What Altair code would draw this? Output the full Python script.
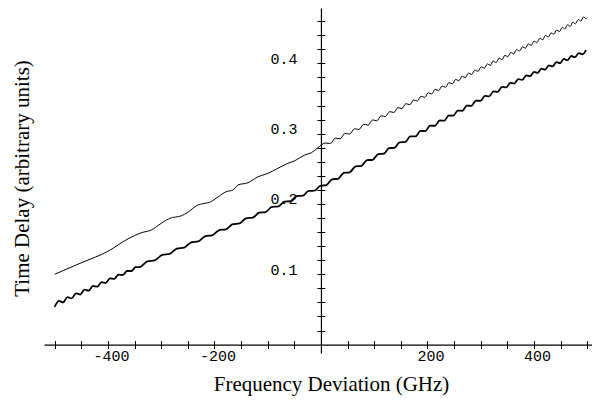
import altair as alt
import pandas as pd

# ---- data (frequency deviation in GHz, time delay) ----
upper_f = [-500, -450, -400, -362, -337.5, -318.7, -300, -284, -262, -250, -234, -218, -209, -193,
           -178, -165, -156, -137, -118, -99.5, -81, -62, -49, -30.6, -18, -5.6,
           8, 18, 27, 36, 45, 54, 63, 71.5, 80, 88.5, 97, 105, 113, 121, 129, 137, 144.5, 152, 159.5, 167,
           174, 181, 188, 195, 201.5, 208, 214.5, 221, 227.5, 234, 240.5, 247, 253, 259, 265, 271, 277, 283,
           289, 295, 301, 307, 312.5, 318, 323.5, 329, 334.5, 340, 345.5, 351, 356.5, 362, 367.5, 373, 378.5,
           384, 389.5, 395, 400, 405.5, 411, 416.5, 421.5, 427, 432, 437.5, 442.5, 448, 453, 458, 463, 468,
           473, 478, 483, 488, 493, 498, 500]
upper_v = [0.1000, 0.1163, 0.1326, 0.1505, 0.1590, 0.1629, 0.1724, 0.1795, 0.1832, 0.1880, 0.1974, 0.2009,
           0.2023, 0.2102, 0.2174, 0.2198, 0.2269, 0.2302, 0.2387, 0.2435, 0.2506, 0.2578, 0.2615, 0.2696,
           0.2728, 0.2800,
           0.2866, 0.2861, 0.2936, 0.2927, 0.3003, 0.2994, 0.3069, 0.3059, 0.3132, 0.3121,
           0.3195, 0.3183, 0.3254, 0.3242, 0.3313, 0.3301, 0.3371, 0.3356, 0.3426, 0.3412,
           0.3480, 0.3464, 0.3532, 0.3516, 0.3582, 0.3564, 0.3630, 0.3612, 0.3678, 0.3660,
           0.3726, 0.3708, 0.3772, 0.3752, 0.3817, 0.3797, 0.3861, 0.3841, 0.3905, 0.3886,
           0.3950, 0.3930, 0.3992, 0.3971, 0.4033, 0.4011, 0.4074, 0.4052, 0.4114, 0.4093,
           0.4155, 0.4133, 0.4196, 0.4174, 0.4236, 0.4215, 0.4277, 0.4256, 0.4316, 0.4294,
           0.4357, 0.4335, 0.4396, 0.4374, 0.4434, 0.4413, 0.4473, 0.4452, 0.4512, 0.4489,
           0.4549, 0.4526, 0.4586, 0.4563, 0.4623, 0.4600, 0.4660, 0.4637, 0.4650]

lower_f = [-500, -492, -484, -476, -468, -460, -452, -444, -436, -428, -420, -412, -404, -396, -388, -380,
           -372, -364, -356, -348, -340,
           -326, -312, -298, -284, -270.5, -257, -243.5, -230, -217, -204, -191, -178, -165.5, -153, -140.5,
           -128, -116, -104, -92, -80, -68.5, -57, -45.5, -34, -23, -12, -1,
           10, 21, 32, 43, 54, 65, 76, 86.5, 97, 107.5, 118, 128, 138, 148, 158, 168, 177.5, 187, 196, 205,
           214, 223, 231.5, 240, 248.5, 257, 265.5, 274, 282.5, 291, 299.5, 308, 316, 324, 332, 340, 348,
           355.5, 363, 370.5, 378, 385.5, 393, 400, 407, 414, 421, 428, 435, 442, 449, 456, 463, 470, 477,
           484, 491, 498]
lower_v = [0.0535, 0.0621, 0.0600, 0.0675, 0.0656, 0.0728, 0.0712, 0.0781, 0.0768, 0.0835, 0.0823, 0.0887,
           0.0878, 0.0941, 0.0935, 0.0994, 0.0990, 0.1046, 0.1046, 0.1100, 0.1102,
           0.1182, 0.1196, 0.1275, 0.1289, 0.1366, 0.1378, 0.1455, 0.1468, 0.1543, 0.1554, 0.1629, 0.1640,
           0.1713, 0.1723, 0.1796, 0.1805, 0.1877, 0.1885, 0.1957, 0.1964, 0.2034, 0.2040, 0.2110, 0.2117,
           0.2185, 0.2189, 0.2258,
           0.2267, 0.2351, 0.2358, 0.2442, 0.2450, 0.2533, 0.2541, 0.2622, 0.2628, 0.2709,
           0.2715, 0.2794, 0.2797, 0.2877, 0.2880, 0.2960, 0.2961, 0.3038, 0.3037, 0.3113,
           0.3112, 0.3187, 0.3184, 0.3258, 0.3255, 0.3328, 0.3325, 0.3398, 0.3396, 0.3469,
           0.3466, 0.3536, 0.3530, 0.3600, 0.3594, 0.3664, 0.3658, 0.3723, 0.3712, 0.3776,
           0.3764, 0.3828, 0.3817, 0.3879, 0.3864, 0.3925, 0.3910, 0.3971, 0.3957, 0.4018,
           0.4003, 0.4062, 0.4045, 0.4104, 0.4087, 0.4146, 0.4129, 0.4188]

x_ticks = [-500, -450, -400, -350, -300, -250, -200, -150, -100, -50,
           50, 100, 150, 200, 250, 300, 350, 400, 450, 500]
y_ticks = [0.02, 0.04, 0.06, 0.08, 0.1, 0.12, 0.14, 0.16, 0.18, 0.2, 0.22, 0.24,
           0.26, 0.28, 0.3, 0.32, 0.34, 0.36, 0.38, 0.4, 0.42, 0.44, 0.46]

rows = []
for f, v in zip(upper_f, upper_v):
    rows.append({"f": f, "v": v, "series": "upper"})
for f, v in zip(lower_f, lower_v):
    rows.append({"f": f, "v": v, "series": "lower"})
df = pd.DataFrame(rows)

# ---- layout ----
W, H = 548, 345
X_DOM = [-520, 509]
Y_DOM = [-0.012, 0.4787]
x0 = W * (0 - X_DOM[0]) / (X_DOM[1] - X_DOM[0])          # pixel of f = 0 from left
y0b = H * (0 - Y_DOM[0]) / (Y_DOM[1] - Y_DOM[0])         # pixel of v = 0 from bottom

xscale = alt.Scale(domain=X_DOM, nice=False, zero=False)
yscale = alt.Scale(domain=Y_DOM, nice=False, zero=False)

MONO = "Liberation Mono"
SERIF = "Liberation Serif"
common = dict(grid=False, tickColor="black", tickWidth=1, tickSize=4, domainColor="black",
              domainWidth=1.2, labelColor="black", labelFont=MONO, labelFontSize=15,
              labelOverlap=False, labelFlush=False, titleColor="black", titleFont=SERIF,
              titleFontSize=21, titleFontWeight="normal")

x_main = alt.Axis(orient="bottom", offset=-y0b, values=x_ticks,
                  labelExpr="(abs(datum.value) == 200 || abs(datum.value) == 400) ? '' + datum.value : ''",
                  labelPadding=0, labelOffset=3, labelBaseline="top",
                  title="Frequency Deviation (GHz)", titleX=287, titleY=45.5,
                  titleAlign="center", titleBaseline="alphabetic", titleAnchor="start", **common)
y_main = alt.Axis(orient="left", offset=-x0, values=y_ticks,
                  labelExpr="(round(datum.value * 100) % 10 == 0) ? format(datum.value, '.1f') : ''",
                  labelPadding=20, labelOffset=-5,
                  title="Time Delay (arbitrary units)", titleX=-292, titleY=170, titleAngle=270,
                  titleAlign="center", titleBaseline="alphabetic", titleAnchor="start", **common)

x_twin = alt.Axis(orient="top", offset=-(H - y0b), values=x_ticks, labels=False, domain=False,
                  title=None, grid=False, tickColor="black", tickWidth=1, tickSize=4)
y_twin = alt.Axis(orient="right", offset=-(W - x0), values=y_ticks, labels=False, domain=False,
                  title=None, grid=False, tickColor="black", tickWidth=1, tickSize=4)

lines = alt.Chart(df).mark_line(interpolate="monotone", color="black", strokeJoin="round").encode(
    x=alt.X("f:Q", scale=xscale, axis=x_main),
    y=alt.Y("v:Q", scale=yscale, axis=y_main),
    detail="series:N",
    strokeWidth=alt.StrokeWidth("series:N",
                                scale=alt.Scale(domain=["upper", "lower"], range=[1.0, 1.8]),
                                legend=None),
)

ghost = alt.Chart(df).mark_line(opacity=0).encode(
    x=alt.X("f:Q", scale=xscale, axis=x_twin),
    y=alt.Y("v:Q", scale=yscale, axis=y_twin),
    detail="series:N",
)

chart = (
    alt.layer(lines, ghost)
    .resolve_axis(x="independent", y="independent")
    .properties(width=W, height=H, autosize=alt.AutoSizeParams(type="none"),
                padding={"left": 36, "top": 0, "right": 0, "bottom": 44},
                background="white")
    .configure_view(strokeWidth=0)
)

chart.save("out.html", embed_options={"renderer": "svg", "actions": False})
